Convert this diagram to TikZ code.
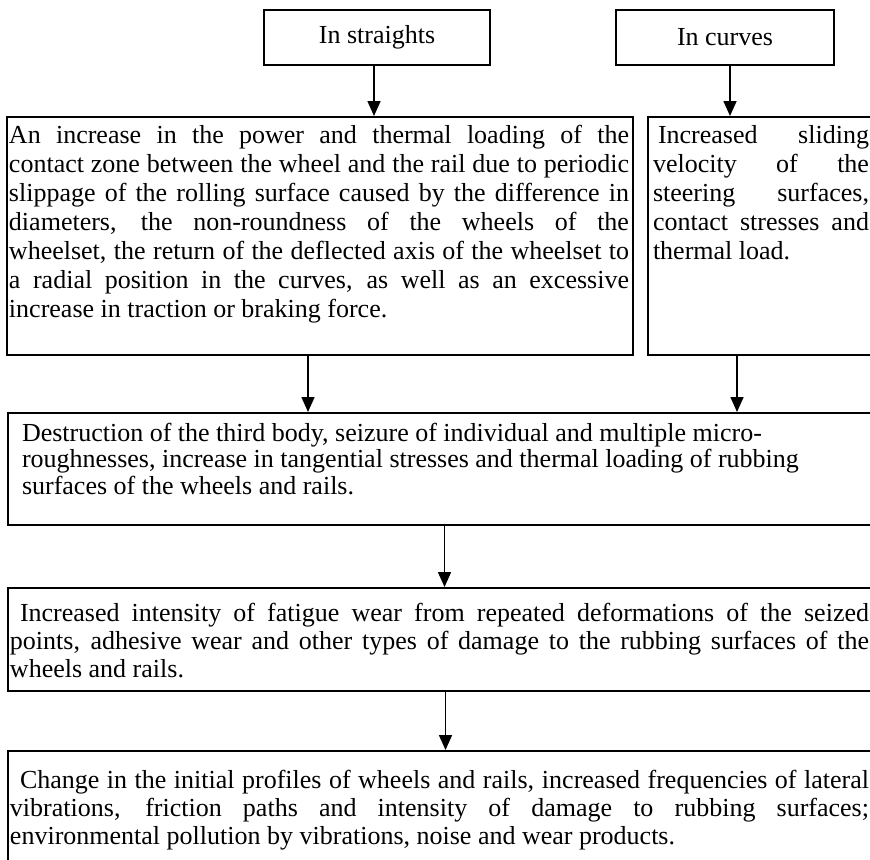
\documentclass[tikz,border=0pt]{standalone}
\usepackage{fontspec}
\setmainfont{Liberation Serif}
\usetikzlibrary{arrows.meta}

% width, height, first baseline, line skip, left skip, text
\newcommand\blocktext[6]{\parbox[t][#2][t]{#1}{\fontsize{13pt}{#4}\selectfont
  \tolerance=10000\relax\hyphenpenalty=10000\relax
  \leftskip=#5\relax\rightskip=2pt\relax\rule{0pt}{#3}#6}}

\begin{document}
\begin{tikzpicture}[x=0.5pt,y=-0.5pt,
  box/.style={draw,line width=1pt,inner sep=0pt,anchor=north west},
  head/.style={box,minimum height=27.5pt,font=\fontsize{13pt}{13pt}\selectfont},
  arr/.style={line width=0.8pt,-{Triangle[length=7.5pt,width=6.5pt]}}]
  \useasboundingbox (0,0) rectangle (870,859);
  \clip (0,0) rectangle (870,859);
  \node[head,minimum width=113pt] (strt) at (263,9) {In straights};
  \node[head,minimum width=109pt] (crv) at (615,9) {In curves};
  \node[box] (inc) at (6,116) {\blocktext{313pt}{119pt}{13pt}{14.5pt}{1pt}{An increase in the power and thermal loading of the\linebreak
    contact zone between the wheel and the rail due to periodic\linebreak
    slippage of the rolling surface caused by the difference in\linebreak
    diameters, the non-roundness of the wheels of the\linebreak
    wheelset, the return of the deflected axis of the wheelset to\linebreak
    a radial position in the curves, as well as an excessive\linebreak
    increase in traction or braking force.}};
  \node[box] (slide) at (647,116) {\blocktext{112.5pt}{119pt}{13pt}{14.5pt}{2.5pt}{\hspace*{2.5pt}Increased sliding\linebreak
    velocity of the\linebreak steering surfaces,\linebreak contact stresses and\linebreak thermal load.}};
  \node[box] (destr) at (7,412) {\blocktext{432.5pt}{56pt}{14pt}{13.25pt}{7pt}{Destruction of the third body, seizure of individual and multiple micro-\\
    roughnesses, increase in tangential stresses and thermal loading of rubbing\\
    surfaces of the wheels and rails.}};
  \node[box] (fatig) at (7,587) {\blocktext{432.5pt}{51.5pt}{16.5pt}{14pt}{1pt}{\hspace*{5pt}Increased intensity of fatigue wear from repeated deformations of the seized\linebreak
    points, adhesive wear and other types of damage to the rubbing surfaces of the\linebreak
    wheels and rails.}};
  \node[box] (chng) at (7,750) {\blocktext{432.5pt}{80pt}{18.5pt}{14pt}{1pt}{\hspace*{5pt}Change in the initial profiles of wheels and rails, increased frequencies of lateral\linebreak
    vibrations, friction paths and intensity of damage to rubbing surfaces;\linebreak
    environmental pollution by vibrations, noise and wear products.}};
  \foreach \a/\b/\s in {strt/inc/-1.5, crv/slide/2.5, inc/destr/-6, slide/destr/-11.75, destr/fatig/2, fatig/chng/2.5}
    \draw[arr] ([xshift=\s pt]\a.south) -- ([xshift=\s pt]\a.south |- \b.north);
\end{tikzpicture}
\end{document}
